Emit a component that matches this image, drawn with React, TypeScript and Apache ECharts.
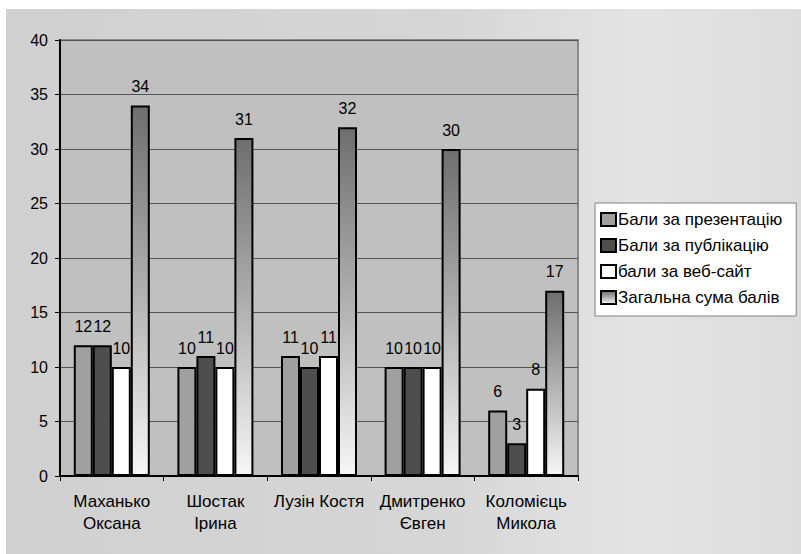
import React, { useEffect, useRef } from "react";
import * as echarts from "echarts";

const categories = [
  "Маханько\nОксана",
  "Шостак\nІрина",
  "Лузін Костя",
  "Дмитренко\nЄвген",
  "Коломієць\nМикола",
];
const seriesNames = [
  "Бали за презентацію",
  "Бали за публікацію",
  "бали за веб-сайт",
  "Загальна сума балів",
];
const presentation = [12, 10, 11, 10, 6];
const publication = [12, 11, 10, 10, 3];
const website = [10, 10, 11, 10, 8];
const total = [34, 31, 32, 30, 17];

const FONT = "'Liberation Sans', Arial, sans-serif";

export default function App() {
  const ref = useRef<HTMLDivElement>(null);
  useEffect(() => {
    if (!ref.current) return;
    const chart = echarts.init(ref.current, undefined, { renderer: "svg" });
    const label = {
      show: true,
      position: "top",
      distance: 11,
      color: "#000",
      fontSize: 16,
      fontFamily: FONT,
    };
    const mk = (name: string, data: number[], color: any) => ({
      name,
      type: "bar",
      data,
      barWidth: 19,
      barGap: "0%",
      itemStyle: { color, borderColor: "#000", borderWidth: 2 },
      label,
    });
    const grad = new echarts.graphic.LinearGradient(0, 0, 0, 1, [
      { offset: 0, color: "#6e6e6e" },
      { offset: 0.5, color: "#b0b0b0" },
      { offset: 1, color: "#f6f6f6" },
    ]);
    chart.setOption({
      animation: false,
      backgroundColor: "transparent",
      textStyle: { fontFamily: FONT },
      grid: {
        left: 54,
        top: 31,
        width: 518,
        height: 436,
        show: true,
        backgroundColor: "#c0c0c0",
        borderColor: "#8a8a8a",
        borderWidth: 2,
      },
      legend: {
        orient: "vertical",
        left: 589,
        top: 194,
        backgroundColor: "#ffffff",
        borderColor: "#808080",
        borderWidth: 1,
        padding: [8, 14, 10, 5],
        itemGap: 9,
        itemWidth: 15,
        itemHeight: 13,
        icon: "rect",
        textStyle: { fontSize: 17, color: "#000", fontFamily: FONT, padding: [0, 0, 0, -3] },
        data: seriesNames,
      },
      xAxis: {
        type: "category",
        data: categories,
        axisLine: { show: true, lineStyle: { color: "#000", width: 2 } },
        axisTick: { show: true, length: 5, lineStyle: { color: "#000", width: 1 } },
        axisLabel: {
          color: "#000",
          fontSize: 17,
          fontFamily: FONT,
          margin: 14,
          lineHeight: 22,
          interval: 0,
        },
        splitLine: { show: false },
      },
      yAxis: {
        type: "value",
        min: 0,
        max: 40,
        interval: 5,
        axisLine: { show: true, lineStyle: { color: "#000", width: 2 } },
        axisTick: { show: true, length: 5, lineStyle: { color: "#000", width: 1 } },
        axisLabel: { color: "#000", fontSize: 16, fontFamily: FONT, margin: 12 },
        splitLine: { show: true, lineStyle: { color: "#555555", width: 1 } },
      },
      series: [
        mk(seriesNames[0], presentation, "#a0a0a0"),
        mk(seriesNames[1], publication, "#4e4e4e"),
        mk(seriesNames[2], website, "#ffffff"),
        mk(seriesNames[3], total, grad),
      ],
    });
    return () => chart.dispose();
  }, []);
  return (
    <div
      style={{
        position: "absolute",
        left: 6,
        top: 9,
        width: 795,
        height: 545,
        background:
          "linear-gradient(to right, #d0d0d0 0%, #d6d6d6 55%, #e4e4e4 80%, #dcdcdc 100%)",
      }}
    >
      <div ref={ref} style={{ width: 795, height: 545 }} />
    </div>
  );
}
